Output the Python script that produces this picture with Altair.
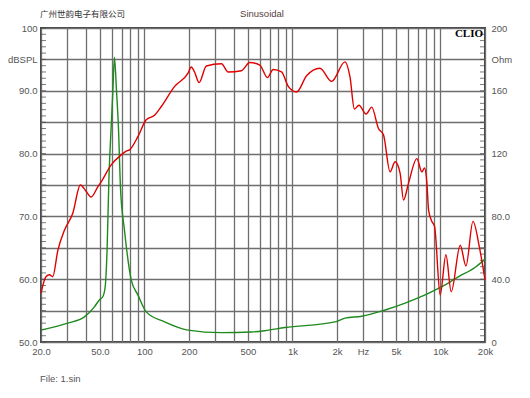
import altair as alt
import pandas as pd

# ---- data ----
spl_freq = [20, 21.6, 22.8, 24.0, 26.0, 28.8, 32.8, 36.9, 40.3, 43.6,
            48.4, 51, 59.6, 69.6, 75.3, 79.3, 90.3, 102.8, 117, 130,
            160, 197, 207, 218, 234, 262, 331, 368, 452, 515,
            602, 678, 741, 844, 937, 1066, 1246, 1533, 1840, 2264,
            2448, 2622, 2816, 3142, 3434, 3812, 4121, 4568, 4938, 5338,
            5630, 6086, 6926, 7490, 7812, 8098, 8316, 8750, 9128, 9962,
            10886, 11824, 13606, 14870, 16588, 18298, 20000]
spl_db = [57.8, 60.4, 60.7, 60.4, 64.6, 67.8, 70.5, 75.0, 74.0, 73.1,
          74.7, 75.5, 78.2, 79.8, 80.4, 80.6, 82.7, 85.4, 86.1, 87.5,
          90.7, 92.8, 93.8, 93.0, 91.3, 93.95, 94.3, 93.0, 93.2, 94.5,
          94.1, 92.1, 93.4, 93.0, 90.7, 89.8, 92.4, 93.6, 91.5, 94.6,
          92.2, 87.1, 87.7, 86.3, 87.4, 84.0, 83.0, 77.1, 78.7, 76.9,
          72.6, 75.3, 79.2, 77.1, 77.7, 75.3, 71.0, 69.2, 68.4, 57.5,
          63.9, 58.0, 65.4, 62.1, 69.2, 65.2, 59.9]

imp_freq = [20, 30.3, 39.3, 45.9, 49.6, 52.3, 54.3, 56.0, 57.5, 59.6,
            61.2, 62.7, 64.7, 66.7, 68.9, 73.3, 81.4, 90.3, 102.8, 136.8,
            197, 331, 529, 651, 889, 1937, 2264, 2938, 4226, 5772,
            7882, 10226, 13268, 17190, 20000]
imp_ohm = [7.6, 12.0, 16.0, 22.4, 26.8, 28.8, 35.2, 60.8, 103.2, 137.2,
           160.4, 181.2, 160.4, 137.2, 98.0, 71.2, 39.6, 30.0, 19.2, 12.8,
           7.6, 6.0, 6.4, 7.2, 9.2, 12.8, 15.2, 16.4, 20.4, 24.8,
           30.0, 35.2, 41.6, 47.6, 52.8]

x_grid = [20, 30, 40, 50, 60, 70, 80, 90, 100, 200, 300, 400, 500, 600, 700,
          800, 900, 1000, 2000, 3000, 4000, 5000, 6000, 7000, 8000, 9000,
          10000, 20000]
x_labels = {20: "20.0", 50: "50.0", 100: "100", 200: "200", 500: "500",
            1000: "1k", 2000: "2k", 3000: "Hz", 5000: "5k", 10000: "10k",
            20000: "20k"}
y_left_vals = [50, 55, 60, 65, 70, 75, 80, 85, 90, 95, 100]
y_left_labels = {100: "100", 95: "dBSPL", 90: "90.0", 80: "80.0",
                 70: "70.0", 60: "60.0", 50: "50.0"}
y_right_vals = [0, 20, 40, 60, 80, 100, 120, 140, 160, 180, 200]
y_right_labels = {200: "200", 180: "Ohm", 160: "160", 120: "120",
                  80: "80.0", 40: "40.0", 0: "0"}
minor_ticks = list(range(50, 101))

title_left = "广州世韵电子有限公司"
title_mid = "Sinusoidal"
brand = "CLIO"
footer = "File: 1.sin"


def label_expr(d):
    parts = "".join(f"datum.value=={k}?'{v}':" for k, v in d.items())
    return parts + "''"


W, H = 444, 314
GRID = "#6e6e6e"
LBL = "#555555"
FONT = "Liberation Sans"
LFS = 9.5

spl_df = pd.DataFrame({"f": spl_freq, "db": spl_db})
imp_df = pd.DataFrame({"f": imp_freq, "ohm": imp_ohm})
tick_df = pd.DataFrame({"v": minor_ticks})

x_axis = alt.Axis(values=x_grid, labelExpr=label_expr(x_labels), grid=True,
                  gridColor=GRID, gridWidth=1.3, ticks=False, tickSize=0,
                  domain=False, labelFontSize=LFS, labelColor=LBL, labelFont=FONT,
                  labelPadding=4, labelOverlap=False, labelFlush=False, title=None)
x_enc = alt.X("f:Q", scale=alt.Scale(type="log", domain=[20, 20000], nice=False),
              axis=x_axis)

spl = alt.Chart(spl_df).mark_line(color="#e00000", strokeWidth=1.4,
                                  interpolate="monotone").encode(
    x=x_enc,
    y=alt.Y("db:Q", scale=alt.Scale(domain=[50, 100], zero=False, nice=False),
            axis=alt.Axis(orient="left", values=y_left_vals,
                          labelExpr=label_expr(y_left_labels), grid=True,
                          gridColor=GRID, gridWidth=1.3, ticks=False, tickSize=0,
                          domain=False, labelFontSize=LFS, labelColor=LBL,
                          labelFont=FONT, labelPadding=4, labelOverlap=False,
                          labelFlush=False, title=None)),
)

imp = alt.Chart(imp_df).mark_line(color="#1e8a1e", strokeWidth=1.4,
                                  interpolate="monotone").encode(
    x=x_enc,
    y=alt.Y("ohm:Q", scale=alt.Scale(domain=[0, 200], nice=False),
            axis=alt.Axis(orient="right", values=y_right_vals,
                          labelExpr=label_expr(y_right_labels), grid=False,
                          ticks=False, tickSize=0, domain=False,
                          labelFontSize=LFS, labelColor=LBL, labelFont=FONT,
                          labelPadding=6, labelOverlap=False, labelFlush=False,
                          title=None)),
)

tick_scale = alt.Scale(domain=[50, 100], nice=False, zero=False)
ticks_left = alt.Chart(tick_df).mark_tick(orient="horizontal", color="#444",
                                          thickness=1, size=5).encode(
    y=alt.Y("v:Q", scale=tick_scale, axis=None), x=alt.value(2.5))
ticks_right = alt.Chart(tick_df).mark_tick(orient="horizontal", color="#444",
                                           thickness=1, size=5).encode(
    y=alt.Y("v:Q", scale=tick_scale, axis=None), x=alt.value(W - 2.5))


def text_layer(txt, x, y, **kw):
    return alt.Chart(pd.DataFrame({"t": [txt]})).mark_text(**kw).encode(
        text="t:N", x=alt.value(x), y=alt.value(y))


t1 = text_layer(title_left, -1, -14, font="Noto Sans CJK SC", fontSize=8.5,
                color="#333", align="left", baseline="middle")
t2 = text_layer(title_mid, 221, -14, font=FONT, fontSize=9.5, color="#5a4040",
                align="center", baseline="middle")
t3 = text_layer(brand, W - 2, 6, font="Liberation Serif", fontSize=11,
                fontWeight="bold", color="#000", align="right", baseline="middle")
t4 = text_layer(footer, -1, 351, font=FONT, fontSize=9.5, color="#555",
                align="left", baseline="middle")

chart = alt.layer(ticks_left, ticks_right, imp, spl, t1, t2, t3, t4).resolve_scale(
    y="independent"
).properties(
    width=W, height=H,
    autosize=alt.AutoSizeParams(type="none"),
    padding={"left": 33, "top": 20, "right": 30, "bottom": 50},
    background="white",
).configure_view(stroke="#444", strokeWidth=2)

chart.save("out.html", embed_options={"renderer": "svg", "actions": False})
